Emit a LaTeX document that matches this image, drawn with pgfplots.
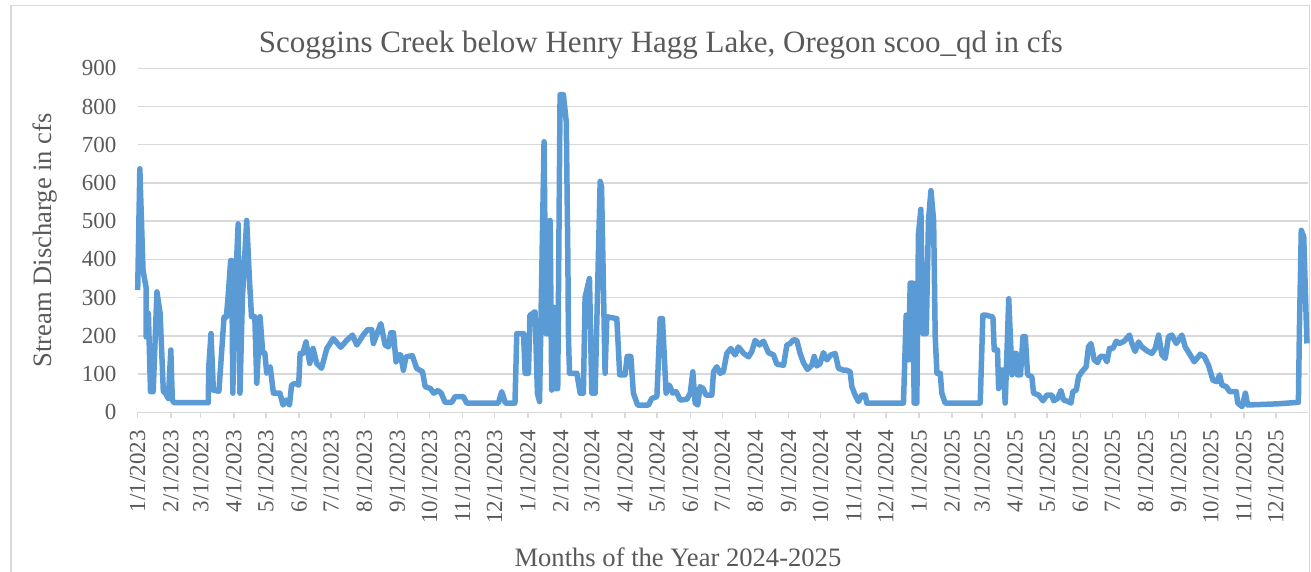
\documentclass[border=0pt]{standalone}
\usepackage{fontspec}
\setmainfont{Liberation Serif}
\usepackage{pgfplots}
\pgfplotsset{compat=1.18}
\definecolor{linec}{HTML}{5B9BD5}
\definecolor{txt}{HTML}{595959}
\definecolor{gridc}{HTML}{D9D9D9}
\begin{document}
\begin{tikzpicture}
\useasboundingbox (-68.85pt,-79.85pt) rectangle (586.7pt,206.15pt);
\draw[gridc, line width=0.75pt] (-63.35pt,-95pt) rectangle (585.85pt,203.3pt);
\begin{axis}[
  at={(0,0)}, anchor=south west,
  scale only axis, width=585.2pt, height=172pt,
  xmin=0, xmax=1095, ymin=0, ymax=900,
  ytick={0,100,...,900},
  xtick={0,31,59,90,120,151,181,212,243,273,304,334,365,396,425,456,486,517,547,578,609,639,670,700,731,762,790,821,851,882,912,943,974,1004,1035,1065},
  xticklabels={1/1/2023,2/1/2023,3/1/2023,4/1/2023,5/1/2023,6/1/2023,7/1/2023,8/1/2023,9/1/2023,10/1/2023,11/1/2023,12/1/2023,1/1/2024,2/1/2024,3/1/2024,4/1/2024,5/1/2024,6/1/2024,7/1/2024,8/1/2024,9/1/2024,10/1/2024,11/1/2024,12/1/2024,1/1/2025,2/1/2025,3/1/2025,4/1/2025,5/1/2025,6/1/2025,7/1/2025,8/1/2025,9/1/2025,10/1/2025,11/1/2025,12/1/2025},
  ymajorgrids, grid style={gridc, line width=0.75pt},
  axis x line*=bottom, axis y line*=left,
  y axis line style={draw=none},
  x axis line style={gridc, line width=0.75pt},
  ytick style={draw=none},
  xtick style={gridc, line width=0.75pt},
  tick align=outside, major tick length=3pt,
  tick label style={font=\fontsize{11.5}{13}\selectfont, color=txt},
  yticklabel style={anchor=east, inner sep=0pt, xshift=-7.5pt},
  xticklabel style={yshift=-5.85pt, rotate=90, anchor=east, inner sep=0pt},
  /pgf/number format/assume math mode=true,
  clip=false,
]
\addplot[linec, line width=2.75pt, line join=round] coordinates {
(0,320) (2,637) (5,371) (7.8,328) (8,197) (10,259) (12,54) (14.5,54) (18,315) (21,259)
(24,54) (26,50) (28.7,36) (31,163) (32.4,32) (34,25) (66,25) (66.5,119) (68.6,206) (70.8,58)
(76,55) (80.8,249) (83,249) (84.8,310) (87,397) (88,397) (89,50) (91,300) (94,493) (95.7,50)
(98,300) (102,502) (104.5,350) (106.5,250) (109.6,250) (111.4,76) (114.5,250) (117,155) (119,155) (120.7,102)
(124,119) (127,50) (133,50) (136,19) (139,32) (142,19) (144,71) (147.5,76) (150.6,71) (152,154)
(154.5,154) (157.5,184) (161,128) (164,167) (167.5,128) (172,115) (177,167) (183,193) (190,170) (195.5,188)
(201,202) (205,176) (211,202) (215,216) (219,216) (220.5,180) (224,206) (227.5,232) (231.5,176) (234.7,171)
(236.8,208) (239.3,208) (241.7,132) (244,150) (246,150) (248.6,110) (251,145) (257,148) (261,115) (266.5,106)
(269,67) (274,62) (277,50) (281,57) (284,50) (287.6,26) (293.9,26) (297,41) (304.7,41) (307.8,24)
(337.5,24) (340.6,54) (344,24) (353,24) (354.7,206) (361,206) (362.5,102) (365.6,102) (367,254) (371.8,263)
(374,50) (376,28) (380.2,708) (382,206) (384,206) (385.9,502) (387.4,58) (389,275) (390.6,62) (393,62)
(395.2,831) (398.3,831) (401,760) (402.5,400) (403,203) (404,102) (410.9,102) (414,50) (417,50) (418.6,301)
(422.7,350) (424.9,50) (428,50) (432.7,604) (434,590) (437.3,102) (439,250) (448.3,245) (451,98) (456,98)
(458,146) (461.4,146) (463.8,50) (467.7,19) (477.9,19) (481,36) (485.8,41) (488.8,245) (491,245) (494.4,50)
(497.5,71) (500.6,50) (503.8,54) (507.6,32) (513.8,34) (517,50) (519.4,106) (521.6,24) (524,19) (526.2,67)
(529,62) (531.7,45) (537.2,45) (538.8,106) (541.8,119) (545,102) (548,106) (551.2,154) (555,167) (559,150)
(562,171) (567,154) (571.5,145) (574.6,159) (577.7,188) (581.8,176) (585.5,186) (590.2,156) (594.9,150) (598,126)
(604.3,123) (607.4,176) (610.5,180) (613.6,190) (616.7,188) (619.8,154) (622.9,130) (626.7,112) (630.7,123) (633,146)
(635.4,121) (638.5,128) (641.6,156) (644.8,137) (648.5,150) (652.6,154) (655.7,115) (660.4,110) (663.5,110) (666.6,106)
(668.2,67) (671.3,45) (674.4,28) (677.5,45) (680.7,45) (682.2,24) (716.5,24) (719,254) (721.3,137) (722.8,338)
(725.3,338) (726.5,24) (729,24) (730.5,466) (732.8,531) (734.7,206) (737.8,206) (739.9,502) (742.2,580) (744.7,502)
(746.2,198) (747.8,102) (750.9,102) (752.4,50) (755.5,24) (788.3,24) (790.8,254) (794,254) (800.2,249) (801.4,163)
(804.5,163) (805.5,62) (807.1,110) (810,110) (811.7,24) (815,297) (818,98) (820,154) (822,154) (823,98)
(826,98) (828.3,198) (830.5,198) (832.6,98) (836.6,93) (838.2,50) (843,45) (847,30) (850.7,45) (855.4,45)
(857,30) (860.7,36) (863.8,57) (866.3,32) (870.9,28) (873.2,24) (875,54) (878.2,58) (880.3,93) (883.4,106)
(887.4,119) (889.6,171) (891.9,180) (895,137) (898.1,130) (900.6,146) (904.4,146) (906.9,132) (909.3,167) (912.5,167)
(915.6,186) (918.7,180) (923,186) (928,202) (930.2,180) (933.3,159) (936.4,184) (939.5,171) (944.2,161) (948.9,154)
(952,167) (955.2,202) (958.3,150) (961.4,141) (964.5,198) (967.6,202) (971.7,180) (977,202) (980.1,171) (984.8,150)
(988.5,132) (994.2,152) (997.9,146) (1001.9,123) (1006,84) (1009.8,80) (1012.3,98) (1014.5,71) (1018.6,67) (1021.7,54)
(1028,54) (1029.2,24) (1033.3,15) (1036.4,50) (1038.6,19) (1066,22) (1086,26) (1087,224) (1088.7,476) (1091,459)
(1094,180)
};
\end{axis}
\node[color=txt, font=\fontsize{15.5}{18}\selectfont] at (261.65pt,183.65pt) {Scoggins Creek below Henry Hagg Lake, Oregon scoo\_qd in cfs};
\node[color=txt, font=\fontsize{13.3}{16}\selectfont, rotate=90] at (-46.35pt,86pt) {Stream Discharge in cfs};
\node[color=txt, font=\fontsize{13.3}{16}\selectfont, anchor=base] at (270.15pt,-77.35pt) {Months of the Year 2024-2025};
\end{tikzpicture}
\end{document}
